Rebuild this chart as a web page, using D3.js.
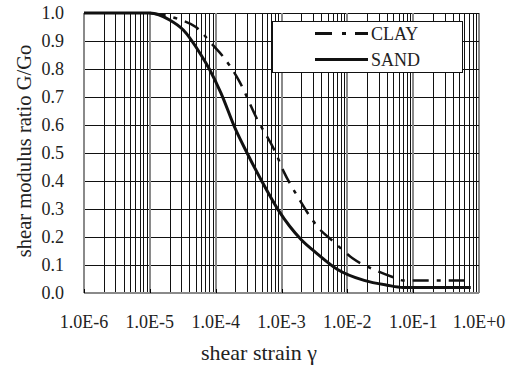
<!DOCTYPE html>
<meta charset="utf-8">
<script src="https://d3js.org/d3.v7.min.js"></script>
<style>
  body { margin: 0; background: #fff; }
  text { font-family: "Liberation Serif", "Times New Roman", serif; fill: #222; }
</style>
<body>
<div id="chart"></div>
<script>
// values
var sandStrain = [1e-6, 1e-5, 2e-5, 3.2e-5, 6e-5, 8e-5, 1.2e-4, 2e-4, 3e-4, 5e-4, 9e-4, 2e-3, 3.5e-3, 7e-3, 1.8e-2, 4e-2, 7e-2, 0.75];
var sandRatio  = [1.0, 1.0, 0.975, 0.94, 0.85, 0.80, 0.715, 0.585, 0.50, 0.40, 0.295, 0.19, 0.14, 0.085, 0.045, 0.028, 0.02, 0.02];
var clayStrain = [1e-5, 1.8e-5, 3e-5, 5e-5, 9e-5, 1.3e-4, 2.3e-4, 4.2e-4, 8e-4, 1.1e-3, 1.7e-3, 3.9e-3, 5.8e-3, 1.2e-2, 3e-2, 5e-2, 7e-2, 0.75];
var clayRatio  = [1.0, 0.99, 0.975, 0.95, 0.886, 0.844, 0.755, 0.624, 0.505, 0.43, 0.35, 0.225, 0.189, 0.124, 0.076, 0.056, 0.045, 0.045];
var xTicks = [1e-6, 1e-5, 1e-4, 1e-3, 1e-2, 1e-1, 1];
var xTickLabels = ["1.0E-6", "1.0E-5", "1.0E-4", "1.0E-3", "1.0E-2", "1.0E-1", "1.0E+0"];
var yTicks = [0, 0.1, 0.2, 0.3, 0.4, 0.5, 0.6, 0.7, 0.8, 0.9, 1.0];
var seriesNames = ["CLAY", "SAND"];

var W = 514, H = 366;
var margin = {top: 13, right: 35, bottom: 73, left: 84},
    width = W - margin.left - margin.right,
    height = H - margin.top - margin.bottom;

var svg = d3.select("#chart").append("svg")
    .attr("width", W).attr("height", H)
  .append("g")
    .attr("transform", "translate(" + margin.left + "," + margin.top + ")");

var x = d3.scaleLog().domain([1e-6, 1]).range([0, width]);
var y = d3.scaleLinear().domain([0, 1]).range([height, 0]);

// minor vertical grid (2..9 in every decade)
var minor = [];
xTicks.slice(0, -1).forEach(function(d) {
  for (var k = 2; k <= 9; k++) minor.push(d * k);
});
svg.append("g").selectAll("line")
  .data(minor).enter().append("line")
    .attr("x1", function(d) { return Math.round(x(d)) + 0.5; })
    .attr("x2", function(d) { return Math.round(x(d)) + 0.5; })
    .attr("y1", 0).attr("y2", height)
    .attr("stroke", "#111").attr("stroke-width", 1);

// horizontal grid
svg.append("g").selectAll("line")
  .data(yTicks.slice(1)).enter().append("line")
    .attr("x1", 0).attr("x2", width)
    .attr("y1", function(d) { return Math.round(y(d)) + 0.5; })
    .attr("y2", function(d) { return Math.round(y(d)) + 0.5; })
    .attr("stroke", "#111").attr("stroke-width", 1);

// decade lines
svg.append("g").selectAll("line")
  .data(xTicks).enter().append("line")
    .attr("x1", function(d) { return Math.round(x(d)); })
    .attr("x2", function(d) { return Math.round(x(d)); })
    .attr("y1", 0).attr("y2", height)
    .attr("stroke", function(d, i) { return i == xTicks.length - 1 ? "#111" : "#8a8a8a"; })
    .attr("stroke-width", function(d, i) { return i == xTicks.length - 1 ? 1 : 2; });

// bottom axis line
svg.append("line")
  .attr("x1", 0).attr("x2", width)
  .attr("y1", height).attr("y2", height)
  .attr("stroke", "#8a8a8a").attr("stroke-width", 2);

// small ticks at decades
svg.append("g").selectAll("line")
  .data(xTicks.slice(0, -1)).enter().append("line")
    .attr("x1", function(d) { return Math.round(x(d)) + 0.5; })
    .attr("x2", function(d) { return Math.round(x(d)) + 0.5; })
    .attr("y1", height - 4).attr("y2", height)
    .attr("stroke", "#000").attr("stroke-width", 1);

// tick labels
svg.append("g").selectAll("text")
  .data(xTicks).enter().append("text")
    .attr("x", function(d) { return x(d); })
    .attr("y", height + 35)
    .attr("text-anchor", "middle")
    .style("font-size", "18px")
    .text(function(d, i) { return xTickLabels[i]; });

svg.append("g").selectAll("text")
  .data(yTicks).enter().append("text")
    .attr("x", -20)
    .attr("y", function(d) { return y(d); })
    .attr("dy", "0.34em")
    .attr("text-anchor", "end")
    .style("font-size", "18px")
    .text(function(d) { return d.toFixed(1); });

// axis titles
svg.append("text")
  .attr("x", 259 - margin.left)
  .attr("y", height + 67)
  .attr("text-anchor", "middle")
  .style("font-size", "22px")
  .text("shear strain γ");

svg.append("text")
  .attr("transform", "translate(" + (31 - margin.left) + "," + (151 - margin.top) + ") rotate(-90)")
  .attr("text-anchor", "middle")
  .style("font-size", "20.5px")
  .text("shear modulus ratio G/Go");

// curves
var line = d3.line()
  .x(function(d) { return x(d[0]); })
  .y(function(d) { return y(d[1]); })
  .curve(d3.curveMonotoneX);

var sand = d3.zip(sandStrain, sandRatio);
var clay = d3.zip(clayStrain, clayRatio);

svg.append("path")
  .datum(clay)
  .attr("d", line)
  .attr("fill", "none")
  .attr("stroke", "#111")
  .attr("stroke-width", 2.5)
  .attr("stroke-dasharray", "16,8,4,8");

svg.append("path")
  .datum(sand)
  .attr("d", line)
  .attr("fill", "none")
  .attr("stroke", "#111")
  .attr("stroke-width", 3);

// legend
var lg = svg.append("g").attr("transform", "translate(" + (272 - margin.left) + "," + (21 - margin.top) + ")");
lg.append("rect")
  .attr("x", 0.5).attr("y", 0.5)
  .attr("width", 190).attr("height", 51)
  .attr("fill", "#fff").attr("stroke", "#111").attr("stroke-width", 1);

lg.selectAll("line.key")
  .data(seriesNames).enter().append("line")
    .attr("x1", 43).attr("x2", 96)
    .attr("y1", function(d, i) { return 12.5 + i * 26; })
    .attr("y2", function(d, i) { return 12.5 + i * 26; })
    .attr("stroke", "#111")
    .attr("stroke-width", 3)
    .attr("stroke-dasharray", function(d, i) { return i == 0 ? "17,10,4,9,13" : null; });

lg.selectAll("text")
  .data(seriesNames).enter().append("text")
    .attr("x", 99)
    .attr("y", function(d, i) { return 12.5 + i * 26; })
    .attr("dy", "0.35em")
    .style("font-size", "18px")
    .text(function(d) { return d; });
</script>
</body>
